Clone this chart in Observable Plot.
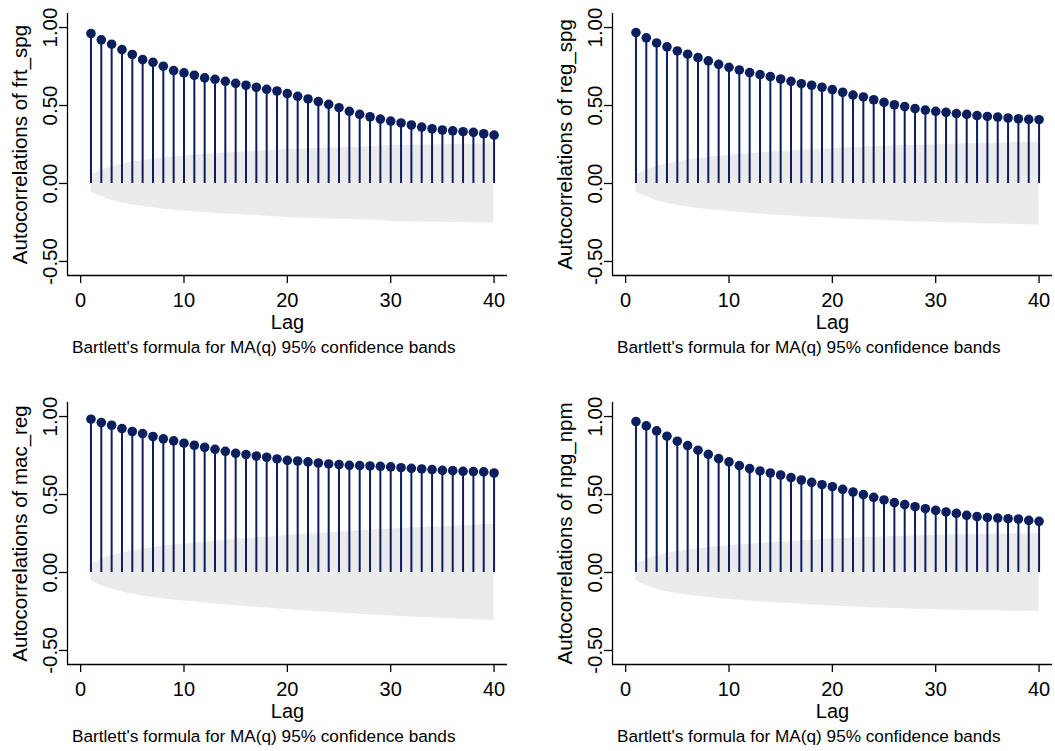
<!DOCTYPE html>
<html>
<head>
<meta charset="utf-8">
<script src="https://cdn.jsdelivr.net/npm/d3@7"></script>
<script src="https://cdn.jsdelivr.net/npm/@observablehq/plot@0.6"></script>
<style>
  body { margin: 0; background: #fff; font-family: "Liberation Sans", Arial, sans-serif; }
  #grid { position: relative; width: 1055px; height: 751px; overflow: hidden; }
  .panel { position: absolute; width: 527px; }
  .panel svg { display: block; }
  .note { position: absolute; font-size: 17.2px; line-height: 1; color: #000; white-space: nowrap; }
</style>
</head>
<body>
<div id="grid"></div>
<script>
// Lags 1..40
const lags = [1, 2, 3, 4, 5, 6, 7, 8, 9, 10, 11, 12, 13, 14, 15, 16, 17, 18, 19, 20,
              21, 22, 23, 24, 25, 26, 27, 28, 29, 30, 31, 32, 33, 34, 35, 36, 37, 38, 39, 40];

// Autocorrelations by series
const acfFrtSpg = [0.961, 0.921, 0.893, 0.859, 0.827, 0.794, 0.777, 0.752, 0.724, 0.709,
                   0.694, 0.677, 0.668, 0.655, 0.642, 0.630, 0.617, 0.604, 0.593, 0.576,
                   0.559, 0.542, 0.525, 0.507, 0.486, 0.463, 0.443, 0.428, 0.413, 0.400,
                   0.388, 0.375, 0.362, 0.351, 0.343, 0.338, 0.332, 0.328, 0.319, 0.310];
const acfRegSpg = [0.968, 0.934, 0.901, 0.876, 0.850, 0.829, 0.807, 0.786, 0.764, 0.745,
                   0.728, 0.711, 0.698, 0.685, 0.670, 0.655, 0.640, 0.630, 0.617, 0.602,
                   0.585, 0.567, 0.555, 0.537, 0.520, 0.505, 0.493, 0.480, 0.471, 0.463,
                   0.456, 0.448, 0.443, 0.435, 0.430, 0.426, 0.420, 0.415, 0.411, 0.409];
const acfMacReg = [0.983, 0.961, 0.944, 0.923, 0.904, 0.891, 0.872, 0.857, 0.844, 0.829,
                   0.816, 0.803, 0.790, 0.777, 0.764, 0.756, 0.747, 0.739, 0.728, 0.719,
                   0.715, 0.709, 0.702, 0.696, 0.692, 0.687, 0.685, 0.683, 0.681, 0.677,
                   0.672, 0.668, 0.664, 0.660, 0.655, 0.653, 0.649, 0.647, 0.645, 0.638];
const acfNpgNpm = [0.968, 0.940, 0.908, 0.874, 0.842, 0.814, 0.784, 0.758, 0.730, 0.709,
                   0.685, 0.666, 0.651, 0.638, 0.625, 0.608, 0.593, 0.578, 0.563, 0.550,
                   0.533, 0.516, 0.499, 0.482, 0.465, 0.448, 0.435, 0.422, 0.409, 0.398,
                   0.388, 0.379, 0.366, 0.358, 0.353, 0.349, 0.345, 0.343, 0.334, 0.328];

// Half-widths of the Bartlett 95% confidence bands
const bandFrtSpg = [0.056, 0.084, 0.109, 0.124, 0.137, 0.148, 0.156, 0.165, 0.171, 0.178,
                    0.182, 0.186, 0.191, 0.195, 0.199, 0.203, 0.206, 0.210, 0.214, 0.218,
                    0.221, 0.223, 0.225, 0.227, 0.229, 0.231, 0.233, 0.236, 0.238, 0.243,
                    0.245, 0.246, 0.247, 0.248, 0.249, 0.250, 0.251, 0.252, 0.253, 0.254];
const bandRegSpg = [0.056, 0.085, 0.110, 0.126, 0.139, 0.150, 0.159, 0.167, 0.174, 0.180,
                    0.186, 0.191, 0.196, 0.200, 0.205, 0.209, 0.213, 0.217, 0.220, 0.224,
                    0.227, 0.230, 0.233, 0.236, 0.238, 0.241, 0.243, 0.245, 0.247, 0.249,
                    0.251, 0.253, 0.255, 0.257, 0.258, 0.260, 0.261, 0.263, 0.264, 0.266];
const bandMacReg = [0.055, 0.085, 0.108, 0.125, 0.139, 0.151, 0.161, 0.169, 0.176, 0.183,
                    0.189, 0.195, 0.201, 0.207, 0.213, 0.218, 0.223, 0.228, 0.233, 0.238,
                    0.243, 0.247, 0.251, 0.255, 0.259, 0.263, 0.267, 0.271, 0.275, 0.279,
                    0.282, 0.285, 0.288, 0.291, 0.294, 0.297, 0.300, 0.303, 0.306, 0.309];
const bandNpgNpm = [0.054, 0.084, 0.108, 0.123, 0.135, 0.145, 0.153, 0.160, 0.167, 0.173,
                    0.178, 0.183, 0.187, 0.191, 0.195, 0.199, 0.203, 0.207, 0.211, 0.215,
                    0.218, 0.221, 0.224, 0.227, 0.229, 0.231, 0.233, 0.235, 0.237, 0.239,
                    0.241, 0.242, 0.243, 0.244, 0.245, 0.246, 0.247, 0.248, 0.249, 0.250];

// Axis ticks and labels
const xTicks = [0, 10, 20, 30, 40];
const yTicks = [-0.5, 0, 0.5, 1];
const yTickLabels = ["-0.50", "0.00", "0.50", "1.00"];
const xTitle = "Lag";
const yTitlePrefix = "Autocorrelations of ";
const note = "Bartlett's formula for MA(q) 95% confidence bands";

const series = [
  {name: "frt_spg", acf: acfFrtSpg, band: bandFrtSpg, left: 0,   top: 0},
  {name: "reg_spg", acf: acfRegSpg, band: bandRegSpg, left: 545, top: 0},
  {name: "mac_reg", acf: acfMacReg, band: bandMacReg, left: 0,   top: 389},
  {name: "npg_npm", acf: acfNpgNpm, band: bandNpgNpm, left: 545, top: 389}
];

const navy = "#0b1f5f";
const bandFill = "#ebebeb";
const xDomain = [-1.27, 41.3];
const yDomain = [-0.59, 1.09];

function acfPlot(s) {
  const rows = lags.map((lag, i) => ({lag, r: s.acf[i], se: s.band[i]}));
  return Plot.plot({
    width: 527,
    height: 340,
    marginLeft: 67,
    marginRight: 20,
    marginTop: 13,
    marginBottom: 65,
    x: {domain: xDomain},
    y: {domain: yDomain},
    style: {fontFamily: "'Liberation Sans', Arial, sans-serif", fontSize: "20px", background: "transparent", color: "black", overflow: "visible"},
    marks: [
      // confidence band
      Plot.areaY(rows, {x: "lag", y1: d => -d.se, y2: "se", fill: bandFill}),
      // spikes and markers
      Plot.ruleX(rows, {x: "lag", y1: 0, y2: "r", stroke: navy, strokeWidth: 2}),
      Plot.dot(rows, {x: "lag", y: "r", r: 4.8, fill: navy, stroke: "none"}),
      // axis lines
      Plot.ruleX([xDomain[0]], {stroke: "black", strokeWidth: 1.3}),
      Plot.ruleY([yDomain[0]], {stroke: "black", strokeWidth: 1.3}),
      Plot.axisX({ticks: xTicks, tickSize: 8, tickPadding: 9, label: null, strokeWidth: 1.3, fontSize: 20}),
      Plot.axisY({ticks: yTicks, tickSize: 8, tickPadding: 2.5, tickRotate: -90, label: null, strokeWidth: 1.3,
                  fontSize: 20.5, tickFormat: d => yTickLabels[yTicks.indexOf(d)]}),
      // axis titles
      Plot.text([xTitle], {text: d => d, frameAnchor: "bottom", dy: 53, lineAnchor: "bottom", fontSize: 20}),
      Plot.text([yTitlePrefix + s.name], {text: d => d, frameAnchor: "left", rotate: -90, dx: -41,
                  lineAnchor: "bottom", textAnchor: "middle", fontSize: 20.5})
    ]
  });
}

const grid = document.getElementById("grid");
for (const s of series) {
  const panel = document.createElement("div");
  panel.className = "panel";
  panel.style.left = s.left + "px";
  panel.style.top = s.top + "px";
  panel.appendChild(acfPlot(s));
  grid.appendChild(panel);

  const cap = document.createElement("div");
  cap.className = "note";
  cap.textContent = note;
  cap.style.left = (s.left + 72) + "px";
  cap.style.top = (s.top + 339) + "px";
  grid.appendChild(cap);
}
</script>
</body>
</html>
